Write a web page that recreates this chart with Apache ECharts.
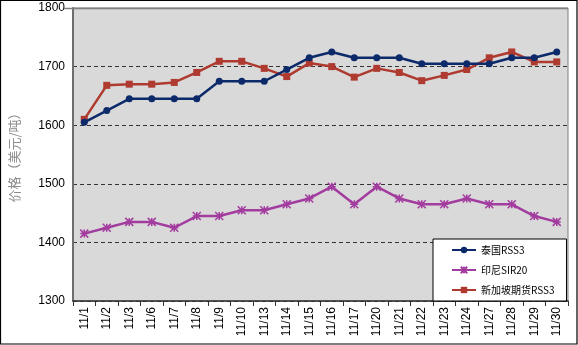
<!DOCTYPE html>
<html><head><meta charset="utf-8">
<script src="https://cdn.jsdelivr.net/npm/echarts@6/dist/echarts.min.js"></script>
<style>html,body{margin:0;padding:0;background:#fff}#c{width:578px;height:345px}</style>
</head><body><div id="c"></div>
<script>
const categories = ['11/1','11/2','11/3','11/6','11/7','11/8','11/9','11/10','11/13','11/14','11/15','11/16','11/17','11/20','11/21','11/22','11/23','11/24','11/27','11/28','11/29','11/30'];
const thaiRSS3 = [1605,1625,1645,1645,1645,1645,1675,1675,1675,1695,1715,1725,1715,1715,1715,1705,1705,1705,1705,1715,1715,1725];
const indoSIR20 = [1415,1425,1435,1435,1425,1445,1445,1455,1455,1465,1475,1495,1465,1495,1475,1465,1465,1475,1465,1465,1445,1435];
const sgxRSS3 = [1610,1668,1670,1670,1673,1690,1709,1709,1697,1683,1706,1700,1682,1697,1690,1676,1685,1695,1715,1725,1708,1708];
const seriesNames = ['泰国RSS3','印尼SIR20','新加坡期货RSS3'];
const yTicks = {min:1300,max:1800,interval:100};

const chart = echarts.init(document.getElementById('c'));
const asterisk = 'path://M0,0L10,10M10,0L0,10M5,0L5,10M0,5L10,5';
chart.setOption({
  animation:false,
  textStyle:{fontFamily:'Liberation Sans, Arial, sans-serif'},
  graphic:[
    {type:'rect',shape:{x:0.5,y:0.5,width:576.5,height:343.5},style:{fill:'none',stroke:'#000',lineWidth:1.2},z:100},
    {type:'line',shape:{x1:64,y1:8.5,x2:568,y2:8.5},style:{stroke:'#7f7f7f',lineWidth:1.5},z:50}
  ],
  grid:{left:64,right:10,top:8,bottom:44,show:true,backgroundColor:'#d9d9d9',borderColor:'#7f7f7f',borderWidth:1},
  legend:{
    orient:'vertical',left:433,top:239,
    backgroundColor:'#fff',borderColor:'#000',borderWidth:1,
    padding:[6,12,6,18],itemWidth:24,itemHeight:8,itemGap:10,
    textStyle:{fontSize:10,color:'#000',fontFamily:'Noto Sans CJK SC, sans-serif'},
    data:seriesNames
  },
  xAxis:{
    type:'category',data:categories,boundaryGap:true,
    axisLine:{lineStyle:{color:'#333',width:1.5}},
    axisTick:{show:true,length:5,inside:false,lineStyle:{color:'#333'}},
    axisLabel:{rotate:90,fontSize:12,color:'#000',margin:6,interval:0}
  },
  yAxis:{
    type:'value',min:yTicks.min,max:yTicks.max,interval:yTicks.interval,
    name:'价格（美元/吨）',nameLocation:'middle',nameGap:52,nameRotate:90,
    nameTextStyle:{color:'#8c8c8c',fontSize:13,fontFamily:'Noto Sans CJK SC, sans-serif'},
    axisLine:{show:true,lineStyle:{color:'#6e6e6e',width:2}},
    axisTick:{show:false},
    axisLabel:{fontSize:12,color:'#000',margin:8,formatter:v=>String(v)},
    splitLine:{show:true,lineStyle:{color:'#333',type:[4,3],width:1}}
  },
  series:[
    {name:seriesNames[0],type:'line',data:thaiRSS3,symbol:'circle',symbolSize:7,
     lineStyle:{color:'#0c2a6a',width:2.5},itemStyle:{color:'#0c2a6a'},z:3},
    {name:seriesNames[1],type:'line',data:indoSIR20,symbol:asterisk,symbolSize:8,
     lineStyle:{color:'#a33c9f',width:2.5},itemStyle:{color:'#a33c9f',borderColor:'#a33c9f',borderWidth:1.5},z:2},
    {name:seriesNames[2],type:'line',data:sgxRSS3,symbol:'rect',symbolSize:7,
     lineStyle:{color:'#ae3a30',width:2.5},itemStyle:{color:'#ae3a30'},z:2}
  ]
});
</script></body></html>
